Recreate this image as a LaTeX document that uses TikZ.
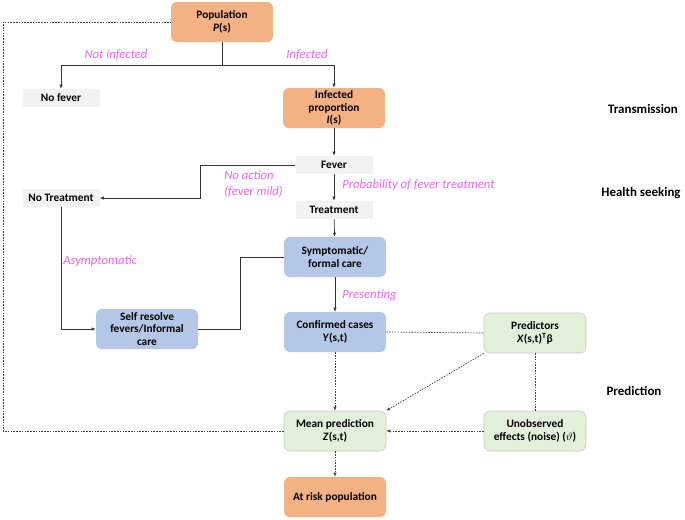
\documentclass[tikz,border=0pt]{standalone}
\usepackage{fontspec}
\setmainfont{Carlito}
\usetikzlibrary{arrows.meta}
\definecolor{popOrange}{RGB}{244,177,131}
\definecolor{careBlue}{RGB}{180,199,231}
\definecolor{predGreen}{RGB}{226,240,217}
\definecolor{stepGray}{RGB}{242,242,242}
\definecolor{labPink}{RGB}{240,100,240}
\tikzset{
  box/.style={rounded corners=4.5pt, minimum width=76.5pt, minimum height=30pt, align=center,
    font=\bfseries\fontsize{8.5}{9.5}\selectfont, inner sep=1pt},
  orangebox/.style={box, fill=popOrange},
  bluebox/.style={box, fill=careBlue},
  greenbox/.style={box, fill=predGreen, draw=gray!45, line width=0.4pt},
  graybox/.style={fill=stepGray, minimum width=57.75pt, minimum height=13.5pt,
    font=\bfseries\fontsize{8.5}{9.5}\selectfont, inner sep=1pt},
  flowlabel/.style={text=labPink, font=\itshape\fontsize{9.5}{12}\selectfont, align=left, inner sep=0pt},
  stagelabel/.style={font=\bfseries\fontsize{9.7}{12}\selectfont},
  link/.style={draw=black!80, line width=0.5pt},
  arr/.style={link, -{Latex[length=3pt,width=2.5pt]}},
  dotlink/.style={draw=black!75, line width=0.5pt, dash pattern=on 1.2pt off 0.9pt},
  dotarr/.style={dotlink, -{Latex[length=3pt,width=2.5pt]}},
}
\begin{document}
\begin{tikzpicture}[x=0.75pt, y=-0.75pt]
        \fill [white] (0,0) rectangle (685,519);
        \useasboundingbox (0,0) rectangle (685,519);
        % transmission
        \node[orangebox] (pop) at (222,22) {Population\\\textit{P}(s)};
        \node[graybox] (nofever) at (61,98) {No fever};
        \node[orangebox] (infprop) at (334,108) {Infected\\proportion\\\textit{I}(s)};
        % health seeking
        \node[graybox] (fever) at (334,165) {Fever};
        \node[graybox] (notreat) at (61,198) {No Treatment};
        \node[graybox] (treat) at (334,210) {Treatment};
        \node[bluebox] (symp) at (335,257) {Symptomatic/\\formal care};
        \node[bluebox] (selfres) at (147,329) {Self resolve\\fevers/Informal\\care};
        \node[bluebox] (confirmed) at (335,332) {Confirmed cases\\\textit{Y}(s,t)};
        % prediction
        \node[greenbox] (predictors) at (535,333) {Predictors\\\textit{X}(s,t)\textsuperscript{T}β};
        \node[greenbox] (meanpred) at (335,431) {Mean prediction\\\textit{Z}(s,t)};
        \node[greenbox] (noise) at (535,431) {Unobserved\\effects (noise) ($\vartheta$)};
        \node[orangebox] (atrisk) at (335,497) {At risk population};
        % labels
        \node[flowlabel] (lnotinf) at (116,55) {Not infected};
        \node[flowlabel] (linf) at (307,55) {Infected};
        \node[flowlabel, anchor=west] (lnoact) at (224,184) {No action\\(fever mild)};
        \node[flowlabel, anchor=west] (lprob) at (342,185) {Probability of fever treatment};
        \node[flowlabel, anchor=west] (lasym) at (63,261) {Asymptomatic};
        \node[flowlabel, anchor=west] (lpres) at (342,295) {Presenting};
        \node[stagelabel] (stransm) at (643,109) {Transmission};
        \node[stagelabel] (shealth) at (641,193) {Health seeking};
        \node[stagelabel] (spred) at (634,391) {Prediction};
        % solid connectors
        \coordinate (split) at (222,65);
        \coordinate (bend) at (200,198);
        \draw[link] (pop.south) -- (split);
        \draw[arr] (split) -| (nofever.north);
        \draw[arr] (split) -| (infprop.north);
        \draw[arr] (infprop) -- (fever);
        \draw[arr] (fever.west) -| (bend) -- (notreat.east);
        \draw[arr] (fever) -- (treat);
        \draw[arr] (treat) -- (symp);
        \draw[arr] (symp) -- (confirmed);
        \draw[link] (symp.west) -- ++(-43,0) |- (selfres.east);
        \draw[arr] (notreat.south) |- (selfres.west);
        % dotted connectors
        \coordinate (loopcorner) at (3,431);
        \draw[dotlink] (confirmed.east) -- (predictors.west);
        \draw[dotlink] (predictors.south) -- (noise.north);
        \draw[dotarr] (predictors.south west) -- (meanpred.north east);
        \draw[dotarr] (confirmed.south) -- (meanpred.north);
        \draw[dotarr] (noise.west) -- (meanpred.east);
        \draw[dotarr] (meanpred.south) -- (atrisk.north);
        \draw[dotlink] (meanpred.west) -- (loopcorner) |- (pop.west);
\end{tikzpicture}
\end{document}
